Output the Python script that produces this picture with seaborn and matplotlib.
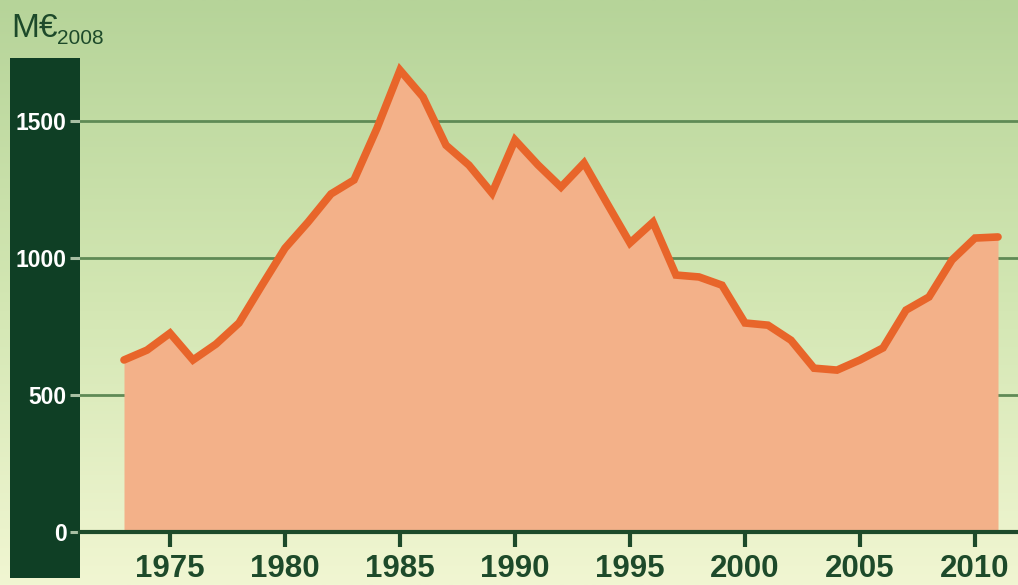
import numpy as np
import pandas as pd
import matplotlib.pyplot as plt
import matplotlib.colors as mcolors
from matplotlib.patches import Rectangle
import seaborn as sns

# Data (M EUR, 2008 prices)
years = list(range(1973, 2012))
values = [628, 664, 726, 628, 686, 763, 901, 1036, 1131, 1234,
          1285, 1474, 1686, 1588, 1412, 1339, 1237, 1431, 1340, 1259,
          1347, 1200, 1055, 1131, 938, 931, 901, 763, 755, 700,
          598, 591, 628, 672, 810, 858, 993, 1073, 1077]
y_ticks = [0, 500, 1000, 1500]
x_ticks = [1975, 1980, 1985, 1990, 1995, 2000, 2005, 2010]
unit_label = "M€"
unit_sub = "2008"

df = pd.DataFrame({"year": years, "value": values})

sns.set_theme(style="white")
plt.rcParams["font.family"] = ["Liberation Sans", "DejaVu Sans"]

line_col = "#e8652a"
fill_col = "#f3b189"
dark_green = "#0f3f25"
text_green = "#1d4a2a"
grid_col = "#5f8a55"

W, H = 1018, 585
fig = plt.figure(figsize=(W / 100, H / 100), dpi=100)

# background gradient
bg = fig.add_axes([0, 0, 1, 1], zorder=-2)
cmap = mcolors.LinearSegmentedColormap.from_list("bg", ["#b6d499", "#d2e6b2", "#f1f6d2"])
bg.imshow(np.linspace(0, 1, 256).reshape(-1, 1), aspect="auto", cmap=cmap,
          extent=[0, 1, 0, 1], origin="upper")
bg.set_xlim(0, 1)
bg.set_ylim(0, 1)
bg.axis("off")
# dark vertical band behind y tick labels
bg.add_patch(Rectangle((10 / W, (H - 578) / H), 70 / W, 520 / H,
                       facecolor=dark_green, edgecolor="none"))

# main axes
left, right = 80 / W, 1.0
bottom, top = (H - 532) / H, (H - 60) / H
ax = fig.add_axes([left, bottom, right - left, top - bottom])
ax.patch.set_alpha(0)

ax.fill_between(df["year"], 0, df["value"], color=fill_col, lw=0, zorder=2)
sns.lineplot(data=df, x="year", y="value", ax=ax, color=line_col,
             linewidth=5.5, zorder=3, solid_joinstyle="miter")

ax.set_xlim(1975 - 90 / 23, 1975 + 848 / 23)
ax.set_ylim(0, 1723)
ax.set_xticks(x_ticks)
ax.set_yticks(y_ticks)
ax.set_xlabel("")
ax.set_ylabel("")

for v in y_ticks[1:]:
    ax.axhline(v, color=grid_col, lw=2, zorder=1)

for s in ["top", "right", "left"]:
    ax.spines[s].set_visible(False)
ax.spines["bottom"].set_color(text_green)
ax.spines["bottom"].set_linewidth(3)
ax.spines["bottom"].set_zorder(4)

ax.tick_params(axis="x", bottom=True, direction="out", length=11, width=3,
               color=text_green, labelsize=22.5, labelcolor=text_green, pad=5)
ax.tick_params(axis="y", left=True, direction="out", length=7.5, width=2.2,
               color="#a8bfa3", labelsize=16.5, labelcolor="white", pad=2)
for lab in ax.get_xticklabels() + ax.get_yticklabels():
    lab.set_fontweight("bold")

# unit label
fig.text(11 / W, (H - 37) / H, unit_label, fontsize=24, color=text_green, va="baseline")
fig.text(57 / W, (H - 44) / H, unit_sub, fontsize=15, color=text_green, va="baseline")

fig.savefig("out.png", dpi=100)
